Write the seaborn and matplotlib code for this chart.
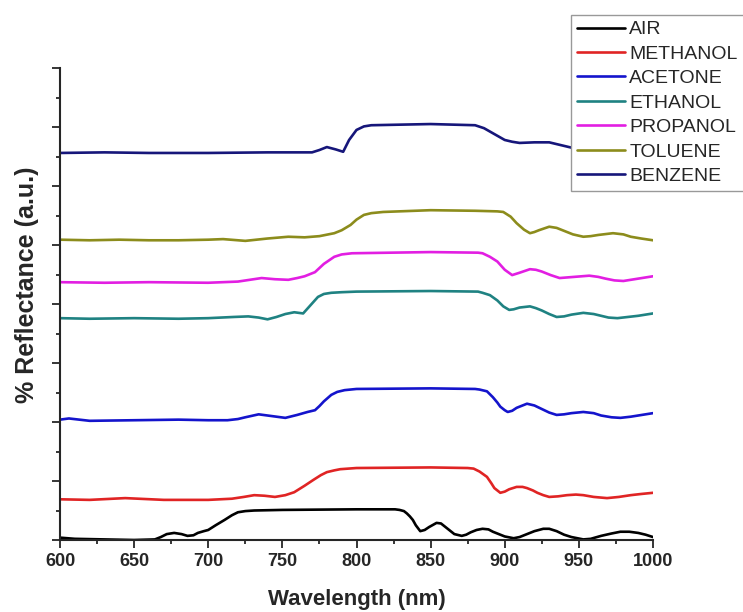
import matplotlib
matplotlib.use("Agg")
import matplotlib.pyplot as plt
import matplotlib.ticker as tkr
import numpy as np
import pandas as pd
import seaborn as sns

# values (wavelength in nm, reflectance in a.u.)
air_wl = [600, 610, 630, 650, 664, 668, 672, 677, 682, 686, 690, 693, 697, 700, 705, 711, 716, 720,
          725, 731, 750, 800, 826, 829, 832, 834, 836, 838, 840, 843, 846, 849, 854, 857, 860, 863,
          866, 871, 874, 877, 881, 885, 889, 892, 896, 900, 906, 910, 915, 920, 926, 930, 935, 940,
          945, 953, 958, 965, 972, 978, 984, 990, 995, 1000]
air_r = [0.04, 0.02, 0.01, 0.0, 0.01, 0.05, 0.10, 0.12, 0.10, 0.07, 0.08, 0.12, 0.15, 0.17, 0.25,
         0.34, 0.42, 0.47, 0.49, 0.50, 0.51, 0.52, 0.52, 0.51, 0.49, 0.45, 0.40, 0.34, 0.25, 0.15,
         0.17, 0.22, 0.29, 0.28, 0.22, 0.16, 0.10, 0.07, 0.09, 0.13, 0.17, 0.19, 0.18, 0.14, 0.10,
         0.06, 0.03, 0.05, 0.10, 0.15, 0.19, 0.19, 0.15, 0.09, 0.05, 0.01, 0.02, 0.07, 0.11, 0.14,
         0.14, 0.12, 0.09, 0.05]

methanol_wl = [600, 620, 644, 670, 700, 716, 724, 731, 738, 745, 752, 758, 765, 771, 776, 780, 785,
               789, 800, 850, 875, 879, 883, 888, 891, 893, 897, 900, 903, 908, 912, 915, 919, 922, 926,
               930, 936, 942, 948, 953, 960, 969, 977, 985, 992, 1000]
methanol_r = [0.69, 0.68, 0.71, 0.68, 0.68, 0.70, 0.73, 0.76, 0.75, 0.73, 0.76, 0.81, 0.92, 1.02,
              1.10, 1.15, 1.18, 1.20, 1.22, 1.23, 1.22, 1.21, 1.16, 1.07, 0.96, 0.88, 0.80, 0.82,
              0.86, 0.90, 0.90, 0.88, 0.84, 0.80, 0.76, 0.73, 0.74, 0.76, 0.77, 0.76, 0.73, 0.71,
              0.73, 0.76, 0.78, 0.80]

acetone_wl = [600, 606, 620, 650, 680, 700, 713, 720, 725, 734, 743, 752, 760, 767, 772, 775, 778,
              783, 787, 792, 800, 850, 880, 883, 888, 892, 895, 897, 900, 902, 905, 908, 915, 920, 925,
              930, 935, 940, 945, 953, 960, 965, 972, 978, 985, 990, 1000]
acetone_r = [2.04, 2.06, 2.02, 2.03, 2.04, 2.03, 2.03, 2.05, 2.08, 2.13, 2.10, 2.07, 2.12, 2.17,
             2.20, 2.27, 2.35, 2.46, 2.51, 2.54, 2.56, 2.57, 2.56, 2.55, 2.52, 2.42, 2.33, 2.26,
             2.20, 2.17, 2.19, 2.24, 2.31, 2.28, 2.22, 2.16, 2.12, 2.13, 2.15, 2.17, 2.15, 2.11,
             2.08, 2.07, 2.09, 2.11, 2.15]

ethanol_wl = [600, 620, 650, 680, 700, 717, 727, 734, 740, 746, 752, 758, 764, 769, 774, 778, 783, 790,
              800, 850, 882, 885, 890, 895, 899, 903, 906, 910, 917, 921, 925, 930, 935, 940, 945, 953,
              960, 965, 970, 976, 983, 990, 1000]
ethanol_r = [3.76, 3.75, 3.76, 3.75, 3.76, 3.78, 3.79, 3.77, 3.74, 3.78, 3.83, 3.86, 3.84, 3.98,
             4.12, 4.17, 4.19, 4.20, 4.21, 4.22, 4.21, 4.19, 4.15, 4.06, 3.96, 3.90, 3.91, 3.94,
             3.96, 3.93, 3.89, 3.83, 3.78, 3.79, 3.82, 3.85, 3.83, 3.80, 3.77, 3.76, 3.78, 3.80,
             3.84]

propanol_wl = [600, 630, 660, 700, 720, 728, 736, 745, 754, 760, 765, 772, 778, 785, 790, 797, 850,
               882, 885, 890, 895, 900, 905, 910, 917, 921, 925, 931, 937, 942, 947, 957, 963, 968,
               974, 980, 985, 990, 1000]
propanol_r = [4.37, 4.36, 4.37, 4.36, 4.38, 4.41, 4.44, 4.42, 4.41, 4.44, 4.47, 4.54, 4.68, 4.80,
              4.84, 4.86, 4.88, 4.87, 4.86, 4.80, 4.72, 4.58, 4.49, 4.53, 4.59, 4.58, 4.55, 4.49,
              4.44, 4.45, 4.46, 4.48, 4.46, 4.43, 4.40, 4.39, 4.41, 4.43, 4.47]

toluene_wl = [600, 620, 640, 660, 680, 700, 710, 725, 740, 754, 765, 775, 785, 790, 796, 800, 805, 810,
              818, 850, 880, 895, 899, 904, 908, 913, 917, 920, 923, 930, 935, 940, 946, 953, 958, 963,
              973, 980, 985, 992, 1000]
toluene_r = [5.09, 5.08, 5.09, 5.08, 5.08, 5.09, 5.10, 5.07, 5.11, 5.14, 5.13, 5.15, 5.20, 5.25,
             5.34, 5.43, 5.51, 5.54, 5.56, 5.59, 5.58, 5.57, 5.56, 5.48, 5.37, 5.26, 5.20, 5.22,
             5.25, 5.31, 5.29, 5.24, 5.18, 5.14, 5.15, 5.17, 5.20, 5.18, 5.14, 5.11, 5.08]

benzene_wl = [600, 630, 660, 700, 740, 770, 775, 780, 786, 791, 795, 800, 805, 810, 850, 880, 886, 893,
              900, 905, 910, 920, 930, 940, 950, 970, 1000]
benzene_r = [6.56, 6.57, 6.56, 6.56, 6.57, 6.57, 6.61, 6.66, 6.62, 6.58, 6.78, 6.95, 7.01, 7.03,
             7.05, 7.03, 6.98, 6.88, 6.78, 6.75, 6.73, 6.74, 6.74, 6.68, 6.62, 6.60, 6.60]

names = ["AIR", "METHANOL", "ACETONE", "ETHANOL", "PROPANOL", "TOLUENE", "BENZENE"]
colors = ["#000000", "#e02424", "#1414cc", "#1f8282", "#e21ee2", "#8c8c1c", "#16167a"]

series = [(air_wl, air_r), (methanol_wl, methanol_r), (acetone_wl, acetone_r),
          (ethanol_wl, ethanol_r), (propanol_wl, propanol_r), (toluene_wl, toluene_r),
          (benzene_wl, benzene_r)]

frames = []
for name, (wl, r) in zip(names, series):
    frames.append(pd.DataFrame({"Wavelength": wl, "Reflectance": r, "Sample": name}))
df = pd.concat(frames, ignore_index=True)

sns.set_style("ticks")
plt.rcParams["font.family"] = ["Liberation Sans", "DejaVu Sans"]

fig = plt.figure(figsize=(7.43, 6.12), dpi=100)
ax = fig.add_axes([60 / 743, 1 - 540 / 612, 593 / 743, 472 / 612])

sns.lineplot(data=df, x="Wavelength", y="Reflectance", hue="Sample", hue_order=names,
             palette=colors, estimator=None, sort=False, linewidth=1.9, ax=ax)

ax.set_xlim(600, 1000)
ax.set_ylim(0, 8)
ax.xaxis.set_major_locator(tkr.MultipleLocator(50))
ax.xaxis.set_minor_locator(tkr.MultipleLocator(25))
ax.yaxis.set_major_locator(tkr.MultipleLocator(1))
ax.yaxis.set_minor_locator(tkr.MultipleLocator(0.5))
ax.set_yticklabels([])
ax.tick_params(axis="both", which="major", direction="out", length=6, width=1.3)
ax.tick_params(axis="both", which="minor", direction="out", length=3, width=1.3)
ax.tick_params(axis="x", labelsize=13, pad=3)
for lab in ax.get_xticklabels():
    lab.set_fontweight("bold")
sns.despine(ax=ax)
for sp in ["left", "bottom"]:
    ax.spines[sp].set_linewidth(1.5)

ax.set_xlabel("Wavelength (nm)", fontsize=16, fontweight="bold", labelpad=14)
ax.set_ylabel("% Reflectance (a.u.)", fontsize=18, fontweight="bold")
ax.yaxis.set_label_coords(-0.036, 0.54)

handles, labels = ax.get_legend_handles_labels()
leg = ax.legend(handles, labels, loc="upper left", bbox_to_anchor=(571 / 743, 1 - 15 / 612),
                bbox_transform=fig.transFigure, fontsize=14, frameon=True, fancybox=False,
                framealpha=1, edgecolor="#999999", handlelength=2.5, handletextpad=0.2,
                borderpad=0.3, labelspacing=0.35, borderaxespad=0)
for h in leg.get_lines():
    h.set_linewidth(1.9)

fig.savefig("out.png", dpi=100)
